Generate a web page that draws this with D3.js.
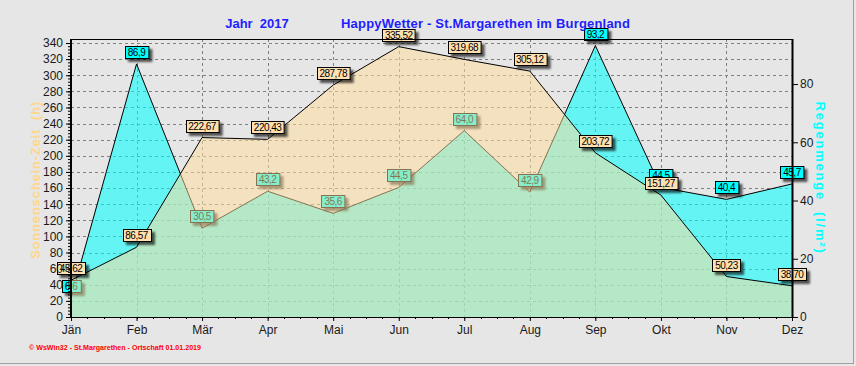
<!DOCTYPE html>
<html>
<head>
<meta charset="utf-8">
<script src="https://cdn.jsdelivr.net/npm/d3@7"></script>
<style>
  body { margin: 0; background: #e6e6e6; }
  svg { display: block; font-family: Arial, 'Liberation Sans', sans-serif; }
</style>
</head>
<body>
<script>
// Data
var months = ['Jän', 'Feb', 'Mär', 'Apr', 'Mai', 'Jun', 'Jul', 'Aug', 'Sep', 'Okt', 'Nov', 'Dez'];
var sunHours = [45.62, 86.57, 222.67, 220.43, 287.78, 335.52, 319.68, 305.12, 203.72, 151.27, 50.23, 38.70];
var rainAmount = [6.6, 86.9, 30.5, 43.2, 35.6, 44.5, 64.0, 42.9, 93.2, 44.5, 40.4, 45.7];
var leftTicks = d3.range(0, 341, 20);
var rightTicks = [0, 20, 40, 60, 80];

// Layout
var width = 856, height = 366;
var plotLeft = 71, plotRight = 792, plotTop = 39, plotBottom = 317;

var svg = d3.select('body').append('svg')
    .attr('width', width)
    .attr('height', height);

svg.append('rect')
    .attr('width', width).attr('height', height)
    .attr('fill', '#e6e6e6');
// outer frame edges
svg.append('line').attr('x1', 853.5).attr('x2', 853.5).attr('y1', 0).attr('y2', 364)
    .attr('stroke', '#a0a0a0');
svg.append('line').attr('x1', 0).attr('x2', 854).attr('y1', 363.5).attr('y2', 363.5)
    .attr('stroke', '#a0a0a0');

var defs = svg.append('defs');
var shadow = defs.append('filter').attr('id', 'shadow')
    .attr('x', '-20%').attr('y', '-30%').attr('width', '160%').attr('height', '190%');
shadow.append('feDropShadow')
    .attr('dx', 3).attr('dy', 3).attr('stdDeviation', 1.2)
    .attr('flood-color', '#000').attr('flood-opacity', 0.65);

var x = d3.scalePoint().domain(months).range([plotLeft, plotRight]);
var yLeft = d3.scaleLinear().domain([0, 340]).range([plotBottom, 43]);
var yRight = d3.scaleLinear().domain([0, 94.1]).range([plotBottom, 43]);

// grid
var grid = svg.append('g').attr('stroke', '#808080').attr('stroke-dasharray', '3,3');
grid.selectAll('line.h')
    .data(leftTicks.filter(function(d) { return d > 0; }))
    .enter().append('line')
    .attr('x1', plotLeft).attr('x2', plotRight)
    .attr('y1', function(d) { return Math.round(yLeft(d)) + 0.5; })
    .attr('y2', function(d) { return Math.round(yLeft(d)) + 0.5; });
grid.selectAll('line.v')
    .data(months.slice(1, -1))
    .enter().append('line')
    .attr('y1', plotTop).attr('y2', plotBottom)
    .attr('x1', function(d) { return Math.round(x(d)) + 0.5; })
    .attr('x2', function(d) { return Math.round(x(d)) + 0.5; });

// rain area (right axis)
var rainArea = d3.area()
    .x(function(d, i) { return x(months[i]); })
    .y0(plotBottom)
    .y1(function(d) { return yRight(d); });
var rainLine = d3.line()
    .x(function(d, i) { return x(months[i]); })
    .y(function(d) { return yRight(d); });

svg.append('path').datum(rainAmount)
    .attr('d', rainArea)
    .attr('fill', '#00ffff')
    .attr('fill-opacity', 0.56);
svg.append('path').datum(rainAmount)
    .attr('d', rainLine)
    .attr('fill', 'none')
    .attr('stroke', '#000')
    .attr('stroke-width', 1);

function drawLabels(values, scale, fmt, fill) {
    var g = svg.append('g');
    values.forEach(function(v, i) {
        var px = x(months[i]);
        var py = scale(v);
        var txt = fmt(v);
        var w = txt.length * 4.6 + 5;
        var h = 12;
        var bx = Math.round(px - w / 2) + 0.5;
        var by = Math.round(py - 6 - h) + 0.5;
        g.append('rect')
            .attr('x', bx).attr('y', by)
            .attr('width', w).attr('height', h)
            .attr('fill', fill)
            .attr('stroke', '#000')
            .attr('filter', 'url(#shadow)');
        g.append('text')
            .attr('x', px).attr('y', by + 9.5)
            .attr('text-anchor', 'middle')
            .attr('font-size', 10)
            .attr('letter-spacing', -0.5)
            .attr('fill', '#000')
            .text(txt);
    });
}

function commaFmt(digits) {
    return function(v) { return v.toFixed(digits).replace('.', ','); };
}

drawLabels(rainAmount, yRight, commaFmt(1), '#00ffff');

// sunshine area (left axis), translucent over rain
var sunArea = d3.area()
    .x(function(d, i) { return x(months[i]); })
    .y0(plotBottom)
    .y1(function(d) { return yLeft(d); });
var sunLine = d3.line()
    .x(function(d, i) { return x(months[i]); })
    .y(function(d) { return yLeft(d); });

svg.append('path').datum(sunHours)
    .attr('d', sunArea)
    .attr('fill', 'rgb(255,220,155)')
    .attr('fill-opacity', 0.52);
svg.append('path').datum(sunHours)
    .attr('d', sunLine)
    .attr('fill', 'none')
    .attr('stroke', '#000')
    .attr('stroke-width', 1);

drawLabels(sunHours, yLeft, commaFmt(2), '#ffe0b0');

// frame
svg.append('line').attr('x1', plotLeft).attr('x2', plotRight)
    .attr('y1', plotTop + 0.5).attr('y2', plotTop + 0.5).attr('stroke', '#000');
svg.append('line').attr('x1', plotLeft).attr('x2', plotRight + 1)
    .attr('y1', plotBottom + 0.5).attr('y2', plotBottom + 0.5).attr('stroke', '#000');
svg.append('line').attr('x1', plotLeft).attr('x2', plotLeft)
    .attr('y1', plotTop).attr('y2', plotBottom + 1).attr('stroke', '#000').attr('stroke-width', 2);
svg.append('line').attr('x1', plotRight + 0.5).attr('x2', plotRight + 0.5)
    .attr('y1', plotTop).attr('y2', plotBottom + 1).attr('stroke', '#000').attr('stroke-width', 2);

// left axis
var leftAxis = d3.axisLeft(yLeft).tickValues(leftTicks).tickSize(4).tickPadding(3);
var gl = svg.append('g').attr('transform', 'translate(' + (plotLeft - 1) + ',0)').call(leftAxis);
gl.select('.domain').remove();
gl.selectAll('text').attr('font-size', 12).attr('font-family', 'Arial').attr('fill', '#1a1a1a');
var minorLeft = d3.axisLeft(yLeft).tickValues(d3.range(0, 341, 4)).tickSize(2).tickFormat('');
var gml = svg.append('g').attr('transform', 'translate(' + (plotLeft - 1) + ',0)').call(minorLeft);
gml.select('.domain').remove();

// right axis
var rightAxis = d3.axisRight(yRight).tickValues(rightTicks).tickSize(5).tickPadding(2);
var gr = svg.append('g').attr('transform', 'translate(' + (plotRight + 1) + ',0)').call(rightAxis);
gr.select('.domain').remove();
gr.selectAll('text').attr('font-size', 12).attr('font-family', 'Arial').attr('fill', '#1a1a1a');

// bottom axis
var bottomAxis = d3.axisBottom(x).tickSize(4).tickPadding(4);
var gb = svg.append('g').attr('transform', 'translate(0,' + plotBottom + ')').call(bottomAxis);
gb.select('.domain').remove();
gb.selectAll('text').attr('font-size', 12).attr('font-family', 'Arial').attr('fill', '#1a1a1a');
var quarterX = d3.scaleLinear().domain([0, 44]).range([plotLeft, plotRight]);
svg.append('g').attr('transform', 'translate(0,' + plotBottom + ')')
    .selectAll('line').data(d3.range(0, 45))
    .enter().append('line')
    .attr('x1', function(d) { return Math.round(quarterX(d)) + 0.5; })
    .attr('x2', function(d) { return Math.round(quarterX(d)) + 0.5; })
    .attr('y1', 0).attr('y2', 2)
    .attr('stroke', '#000');

// titles
svg.append('text').attr('x', 257).attr('y', 28)
    .attr('text-anchor', 'middle')
    .attr('font-size', 13).attr('font-weight', 'bold')
    .attr('fill', '#1e1eff')
    .attr('xml:space', 'preserve')
    .text('Jahr  2017');
svg.append('text').attr('x', 341).attr('y', 28)
    .attr('font-size', 13).attr('font-weight', 'bold')
    .attr('letter-spacing', 0.2)
    .attr('fill', '#1e1eff')
    .text('HappyWetter - St.Margarethen im Burgenland');

svg.append('text')
    .attr('transform', 'translate(40,180) rotate(-90)')
    .attr('text-anchor', 'middle')
    .attr('font-size', 13).attr('font-weight', 'bold')
    .attr('letter-spacing', 0.8)
    .attr('fill', '#ffd68a')
    .attr('xml:space', 'preserve')
    .text('Sonnenschein-Zeit  (h)');

svg.append('text')
    .attr('transform', 'translate(816,178) rotate(90)')
    .attr('text-anchor', 'middle')
    .attr('font-size', 13).attr('font-weight', 'bold')
    .attr('letter-spacing', 1.8)
    .attr('fill', '#00ffff')
    .attr('xml:space', 'preserve')
    .text('Regenmenge  (l/m²)');

svg.append('text').attr('x', 29).attr('y', 350)
    .attr('font-size', 7).attr('font-weight', 'bold')
    .attr('textLength', 172).attr('lengthAdjust', 'spacingAndGlyphs')
    .attr('fill', '#ff0000')
    .text('© WsWin32 - St.Margarethen - Ortschaft  01.01.2019');
</script>
</body>
</html>
